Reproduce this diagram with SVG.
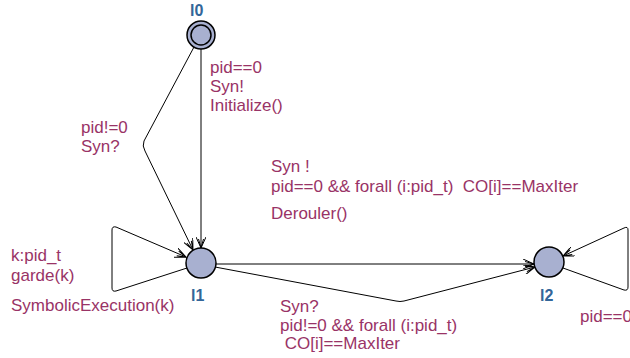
<svg xmlns="http://www.w3.org/2000/svg" width="630" height="358" viewBox="0 0 630 358">
<defs>
<style>
.lbl{font-family:"Liberation Sans",Arial,sans-serif;font-size:17px;fill:#993366}
.nm{font-family:"Liberation Sans",Arial,sans-serif;font-size:16px;font-weight:bold;fill:#336699}
.loc{fill:#a8b0d0;stroke:#000;stroke-width:1.5}
.edge{fill:none;stroke:#000;stroke-width:1;stroke-linejoin:round}
</style>
<marker id="arr" viewBox="0 0 12 10" refX="11" refY="5" markerWidth="12" markerHeight="10" markerUnits="userSpaceOnUse" orient="auto">
<path d="M0,0 L11,5 L0,10 M2,2.5 L11,5 L2,7.5" fill="none" stroke="#000" stroke-width="1"/>
</marker>
</defs>
<rect width="630" height="358" fill="#fff"/>
<g id="connectors">
<path class="edge" d="M201,49 L201,248" marker-end="url(#arr)"/>
<path class="edge" d="M194,47 L144,141 Q142,146 145,151 L193,250" marker-end="url(#arr)"/>
<path class="edge" d="M187,268 L116,291 Q112,292 112,288 L112,230 Q112,226 116,227 L186,257" marker-end="url(#arr)"/>
<path class="edge" d="M216,264 L534,264" marker-end="url(#arr)"/>
<path class="edge" d="M215,267 L396,301 Q400,302 404,301 L535,267" marker-end="url(#arr)"/>
<path class="edge" d="M563,268 L624,290 Q628,291 628,287 L628,230 Q628,226 624,228 L563,256" marker-end="url(#arr)"/>
</g>
<g id="l0">
<circle class="loc" cx="201" cy="35" r="14"/>
<circle cx="201" cy="35" r="10" fill="none" stroke="#000" stroke-width="1.5"/>
<text class="nm" x="190" y="16">l0</text>
</g>
<g id="l1">
<circle class="loc" cx="201" cy="263" r="15"/>
<text class="nm" x="191" y="301">l1</text>
</g>
<g id="l2">
<circle class="loc" cx="549" cy="262" r="15"/>
<text class="nm" x="540" y="301">l2</text>
</g>
<g id="labels">
<text class="lbl" x="210" y="73">pid==0</text>
<text class="lbl" x="210" y="92">Syn!</text>
<text class="lbl" x="210" y="111">Initialize()</text>
<text class="lbl" x="81" y="133">pid!=0</text>
<text class="lbl" x="81" y="152">Syn?</text>
<text class="lbl" x="271" y="172">Syn !</text>
<text class="lbl" x="271" y="192" xml:space="preserve">pid==0 &amp;&amp; forall (i:pid_t)  CO[i]==MaxIter</text>
<text class="lbl" x="271" y="219">Derouler()</text>
<text class="lbl" x="11" y="261">k:pid_t</text>
<text class="lbl" x="11" y="281">garde(k)</text>
<text class="lbl" x="11" y="311">SymbolicExecution(k)</text>
<text class="lbl" x="280" y="312">Syn?</text>
<text class="lbl" x="280" y="331">pid!=0 &amp;&amp; forall (i:pid_t)</text>
<text class="lbl" x="280" y="349" xml:space="preserve"> CO[i]==MaxIter</text>
<text class="lbl" x="580" y="322">pid==0</text>
</g>
</svg>
